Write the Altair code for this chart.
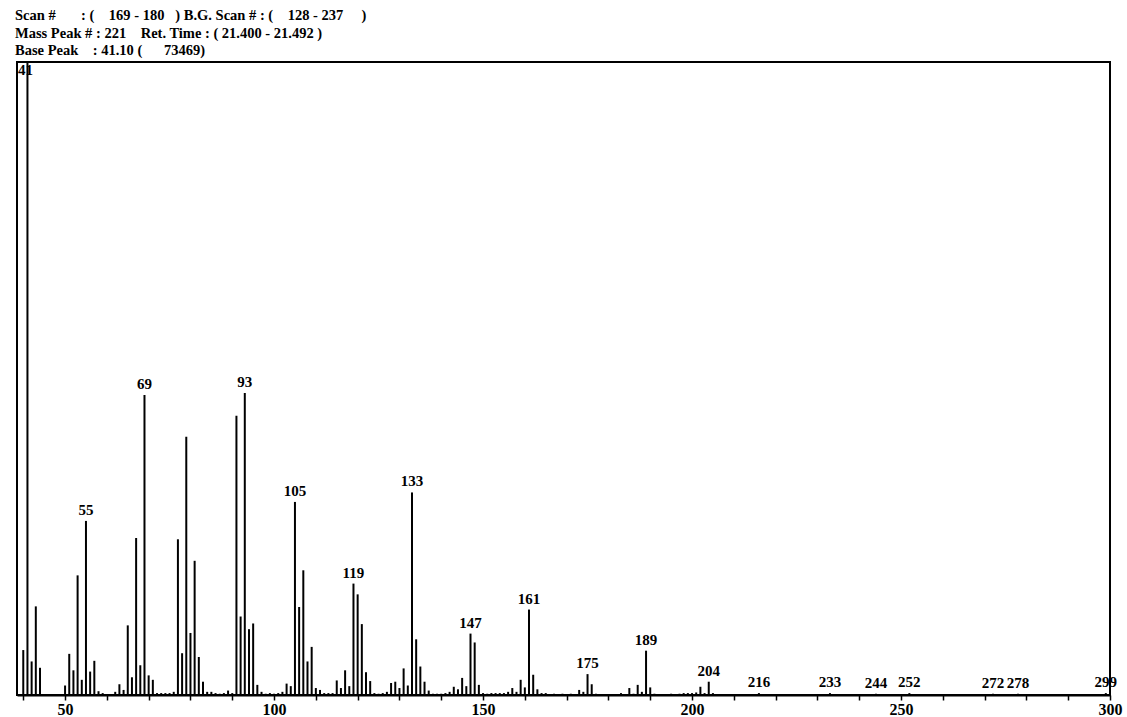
import altair as alt
import pandas as pd

# m/z values and relative intensities (% of base peak 41)
mz = [40, 41, 42, 43, 44,
      50, 51, 52, 53, 54, 55, 56, 57, 58, 59,
      62, 63, 64, 65, 66, 67, 68, 69, 70, 71, 72, 73, 74, 75, 76,
      77, 78, 79, 80, 81, 82, 83, 84, 85, 86, 87, 88, 89, 90,
      91, 92, 93, 94, 95, 96, 97, 98, 99, 100, 101, 102, 103, 104,
      105, 106, 107, 108, 109, 110, 111, 112, 113, 114, 115, 116, 117, 118,
      119, 120, 121, 122, 123, 124, 125, 126, 127, 128, 129, 130, 131, 132,
      133, 134, 135, 136, 137, 138, 139, 140, 141, 142, 143, 144, 145, 146,
      147, 148, 149, 150, 151, 152, 153, 154, 155, 156, 157, 158, 159, 160,
      161, 162, 163, 164, 165, 167, 169, 171, 173, 174, 175, 176, 177,
      183, 185, 186, 187, 188, 189, 190, 191, 195, 197, 198, 199, 200, 201,
      202, 203, 204, 205, 216, 233, 244, 252, 272, 278, 299]
intensity = [7.1, 100, 5.3, 14.0, 4.3,
             1.5, 6.5, 3.9, 18.9, 2.4, 27.5, 3.7, 5.4, 0.6, 0.3,
             0.5, 1.7, 0.8, 11.0, 2.8, 24.8, 4.7, 47.4, 3.1, 2.4, 0.3, 0.3, 0.3, 0.3, 0.5,
             24.6, 6.6, 40.8, 9.8, 21.2, 6.0, 2.1, 0.5, 0.5, 0.3, 0.2, 0.3, 0.7, 0.3,
             44.1, 12.4, 47.7, 10.4, 11.3, 1.6, 0.5, 0.2, 0.3, 0.2, 0.3, 0.5, 1.8, 1.4,
             30.5, 13.9, 19.7, 5.3, 7.6, 1.1, 0.8, 0.3, 0.3, 0.3, 2.3, 1.1, 3.9, 1.4,
             17.6, 15.9, 11.2, 3.6, 2.2, 0.3, 0.2, 0.3, 0.5, 1.9, 2.1, 1.1, 4.2, 1.5,
             32.0, 8.8, 4.5, 2.1, 0.7, 0.2, 0.2, 0.2, 0.3, 0.5, 1.3, 0.9, 2.7, 1.4,
             9.7, 8.3, 1.6, 0.3, 0.2, 0.3, 0.3, 0.3, 0.3, 0.5, 1.1, 0.5, 2.4, 1.2,
             13.5, 3.2, 0.9, 0.3, 0.3, 0.2, 0.2, 0.2, 0.8, 0.5, 3.3, 1.7, 0.2,
             0.3, 1.1, 0.2, 1.6, 0.5, 7.0, 1.2, 0.2, 0.2, 0.2, 0.3, 0.3, 0.3, 0.4,
             1.3, 0.3, 2.1, 0.3, 0.3, 0.3, 0.2, 0.3, 0.2, 0.2, 0.3]

# peaks annotated with their m/z
labelled = [55, 69, 93, 105, 119, 133, 147, 161, 175, 189, 204,
            216, 233, 244, 252, 272, 278, 299]
base_peak = 41

# instrument header lines
NB = "\u00a0"
header_lines = [
    "Scan #" + NB * 7 + ": (" + NB * 4 + "169 - 180" + NB * 3 + ") B.G. Scan # : (" + NB * 4 + "128 - 237" + NB * 5 + ")",
    "Mass Peak # : 221" + NB * 4 + "Ret. Time : ( 21.400 - 21.492 )",
    "Base Peak" + NB * 4 + ": 41.10 (" + NB * 6 + "73469)",
]

spec = pd.DataFrame({"mz": mz, "intensity": intensity})
lab = spec[spec["mz"].isin(labelled)]
bp = spec[spec["mz"] == base_peak]

FONT = "Liberation Serif"
x_dom = [38.5, 300]

x = alt.X("mz:Q", scale=alt.Scale(domain=x_dom, nice=False, zero=False),
          axis=alt.Axis(values=list(range(40, 301, 10)), title=None, grid=False,
                        labelExpr="datum.value % 50 == 0 ? datum.label : ''",
                        labelFont=FONT, labelFontSize=16, labelFontWeight="bold",
                        labelColor="black", labelPadding=1, labelOverlap=False,
                        labelFlush=False, tickColor="black", tickSize=5,
                        tickWidth=1.5, domainColor="black", domainWidth=2))
y = alt.Y("intensity:Q", scale=alt.Scale(domain=[0, 100], nice=False), axis=None)

bars = alt.Chart(spec).mark_rule(color="black", strokeWidth=2).encode(
    x=x, y=y, y2=alt.datum(0))

peak_text = alt.Chart(lab).mark_text(
    font=FONT, fontSize=15, fontWeight="bold", color="black",
    baseline="bottom", dy=-3).encode(x="mz:Q", y="intensity:Q", text="mz:Q")

base_text = alt.Chart(bp).mark_text(
    font=FONT, fontSize=15, fontWeight="bold", color="black",
    baseline="top", dy=1, dx=-2).encode(x="mz:Q", y="intensity:Q", text="mz:Q")

header_y = [-46, -28, -11]
headers = [
    alt.Chart(pd.DataFrame({"t": [line]})).mark_text(
        font=FONT, fontSize=14.5, fontWeight="bold", color="black",
        align="left", baseline="middle").encode(
        text="t:N", x=alt.value(-2), y=alt.value(yy))
    for line, yy in zip(header_lines, header_y)
]

chart = alt.layer(bars, peak_text, base_text, *headers).properties(
    width=1093, height=633,
    autosize=alt.AutoSizeParams(type="none"),
    padding={"left": 17, "top": 62, "right": 17, "bottom": 22},
    background="white",
).configure_view(stroke="black", strokeWidth=2)

chart.save("out.html", embed_options={"renderer": "svg", "actions": False})
